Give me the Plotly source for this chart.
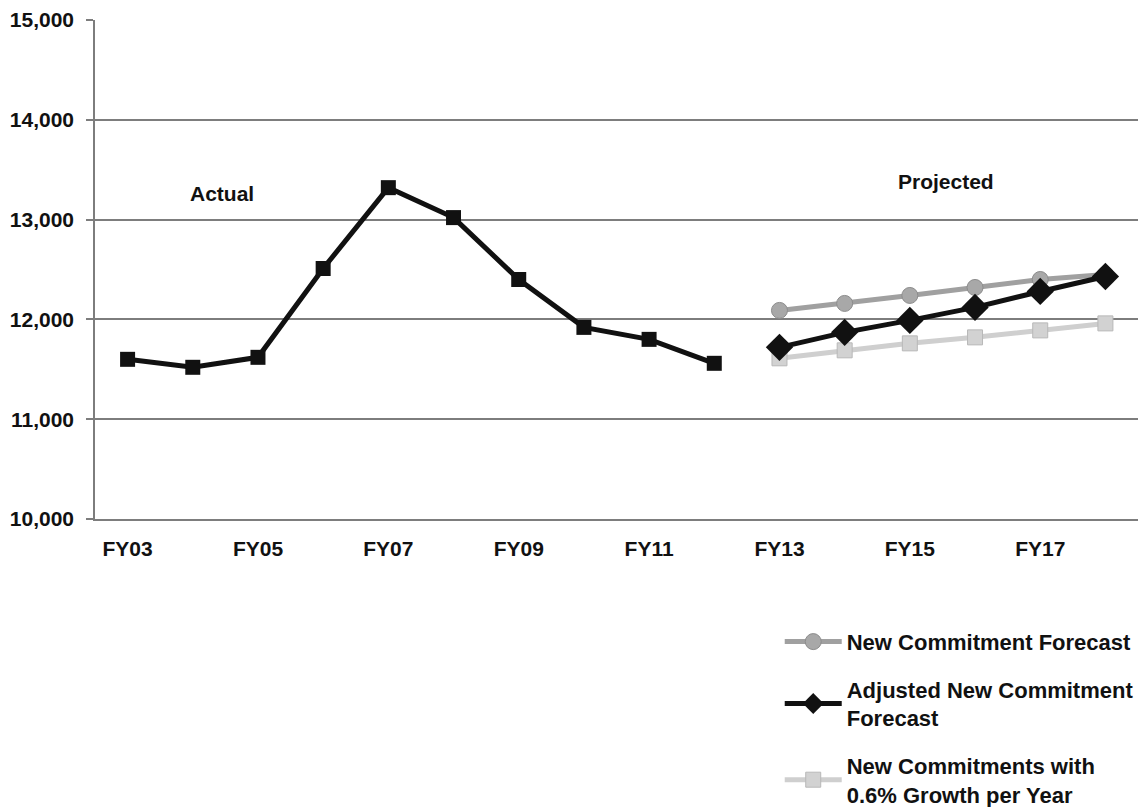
import plotly.graph_objects as go

# Fiscal years on the category axis
years = ["FY03", "FY04", "FY05", "FY06", "FY07", "FY08", "FY09", "FY10",
         "FY11", "FY12", "FY13", "FY14", "FY15", "FY16", "FY17", "FY18"]
actual_years = years[:10]
projected_years = years[10:]

# Actual new commitments
actual = [11600, 11520, 11620, 12510, 13320, 13020, 12400, 11920, 11800, 11560]

# Projected series
forecast = [12090, 12160, 12240, 12320, 12400, 12450]
adjusted = [11720, 11870, 11990, 12120, 12280, 12430]
growth_06 = [11610, 11690, 11760, 11820, 11890, 11960]

tick_years = ["FY03", "FY05", "FY07", "FY09", "FY11", "FY13", "FY15", "FY17"]
y_ticks = [10000, 11000, 12000, 13000, 14000, 15000]

FONT = "Liberation Sans, Arial, sans-serif"
GRID = "#7d7d7d"

fig = go.Figure()

fig.add_trace(go.Scatter(
    x=actual_years, y=actual, mode="lines+markers", showlegend=False,
    line=dict(color="#111111", width=5),
    marker=dict(symbol="square", size=15, color="#111111"),
))

fig.add_trace(go.Scatter(
    x=projected_years, y=growth_06, mode="lines+markers",
    name="New Commitments with<br>0.6% Growth per Year",
    legendgroup="c", legendrank=3,
    line=dict(color="#cfcfcf", width=5),
    marker=dict(symbol="square", size=15, color="#d2d2d2",
                line=dict(color="#b8b8b8", width=1)),
))

fig.add_trace(go.Scatter(
    x=projected_years, y=forecast, mode="lines+markers",
    name="New Commitment Forecast",
    legendgroup="a", legendrank=1,
    line=dict(color="#a0a0a0", width=5),
    marker=dict(symbol="circle", size=16, color="#a8a8a8",
                line=dict(color="#8c8c8c", width=1)),
))

fig.add_trace(go.Scatter(
    x=projected_years, y=adjusted, mode="lines+markers",
    name="Adjusted New Commitment<br>Forecast",
    legendgroup="b", legendrank=2,
    line=dict(color="#111111", width=5),
    marker=dict(symbol="diamond", size=21, color="#111111"),
))

fig.add_annotation(text="Actual", xref="paper", yref="y", x=0.122, y=13260,
                   xanchor="center", yanchor="middle",
                   showarrow=False, font=dict(size=21, color="#111111"))
fig.add_annotation(text="Projected", xref="paper", yref="y", x=0.816, y=13380,
                   xanchor="center", yanchor="middle",
                   showarrow=False, font=dict(size=21, color="#111111"))

fig.update_layout(
    width=1144, height=807,
    margin=dict(l=95, r=6, t=20, b=288, autoexpand=False),
    paper_bgcolor="white", plot_bgcolor="white",
    font=dict(family=FONT, size=20, color="#111111", weight="bold"),
    legend=dict(
        x=0.6565, y=-0.204, xanchor="left", yanchor="top",
        traceorder="grouped", tracegroupgap=16, itemwidth=57,
        font=dict(size=22, color="#111111", weight="bold"),
        bgcolor="rgba(0,0,0,0)",
    ),
)

fig.update_xaxes(
    type="category", categoryorder="array", categoryarray=years,
    range=[-0.5, 15.5], tickmode="array", tickvals=tick_years, ticktext=tick_years,
    showgrid=False, showline=True, linecolor=GRID, linewidth=1.5,
    ticks="", ticklabelstandoff=10,
    tickfont=dict(size=21, weight="bold"), zeroline=False,
)

fig.update_yaxes(
    range=[10000, 15000], tickmode="array", tickvals=y_ticks,
    tickformat=",d", showgrid=True, gridcolor=GRID, gridwidth=1.5,
    showline=True, linecolor=GRID, linewidth=1.5,
    ticks="outside", ticklen=7, tickcolor=GRID, tickwidth=1.5,
    ticklabelstandoff=8, tickfont=dict(size=21, weight="bold"), zeroline=False,
)

fig.write_html("out.html")
